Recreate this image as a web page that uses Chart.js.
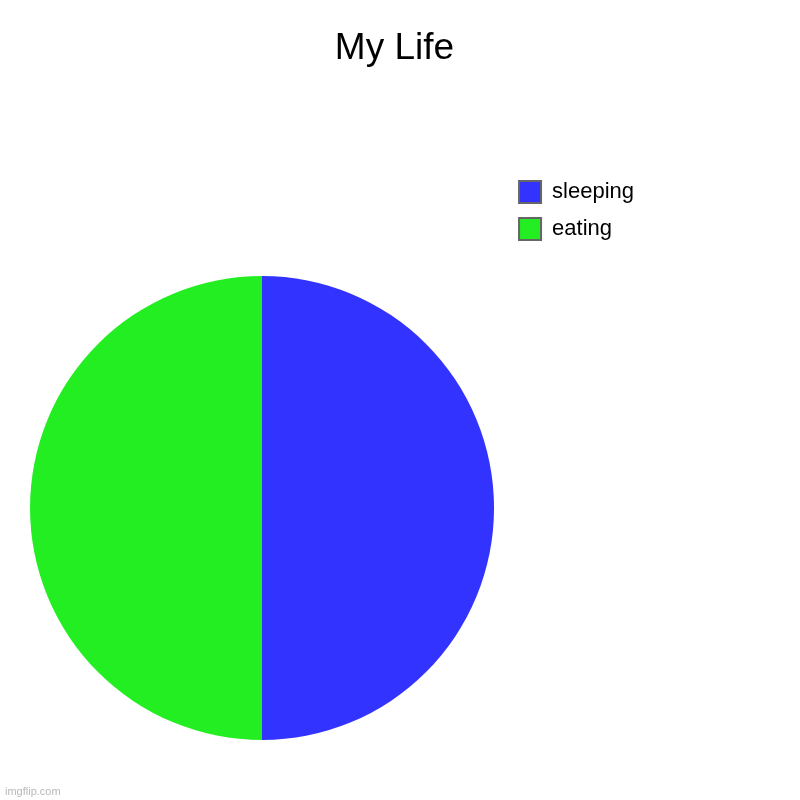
<!DOCTYPE html>
<html>
<head>
<meta charset="utf-8">
<script src="https://cdn.jsdelivr.net/npm/chart.js@4"></script>
<style>
  html, body { margin: 0; padding: 0; background: #fff; }
  #wrap { width: 800px; height: 800px; }
</style>
</head>
<body>
<div id="wrap"><canvas id="chart" width="800" height="800"></canvas></div>

<script>
    // chart data
    const labels = ['sleeping', 'eating'];
    const values = [50, 50];
    const colors = ['#3333ff', '#22ee22'];

    const FONT = "'Liberation Sans', Arial, sans-serif";

    // small watermark at the bottom left
    const watermark = {
      id: 'watermark',
      afterDraw(chart) {
        const c = chart.ctx;
        c.save();
        c.font = '11px ' + FONT;
        c.fillStyle = '#b8b8b8';
        c.textBaseline = 'alphabetic';
        c.fillText('imgflip.com', 5, 795);
        c.restore();
      }
    };

    // after layout: centre the title on the canvas and let the pie sit lower
    // than the space left under the title (the legend stays up at the top)
    const nudge = {
      id: 'nudge',
      afterLayout(chart) {
        const t = chart.titleBlock;
        t.left = 0;
        t.right = 789;
        t.width = 789;
        const a = chart.chartArea;
        a.bottom = 850;
        a.height = a.bottom - a.top;
      }
    };

    const ctx = document.getElementById('chart').getContext('2d');
    new Chart(ctx, {
      type: 'pie',
      data: {
        labels: labels,
        datasets: [{
          data: values,
          backgroundColor: colors,
          borderWidth: 0
        }]
      },
      options: {
        responsive: false,
        animation: false,
        radius: 232,
        layout: {
          padding: { left: 20, right: 156, top: 0, bottom: 0 }
        },
        plugins: {
          title: {
            display: true,
            text: 'My Life',
            color: '#000',
            font: { family: FONT, size: 37, weight: 'normal', lineHeight: 1.2 },
            padding: { top: 27, bottom: 94.6 }
          },
          legend: {
            display: true,
            position: 'right',
            align: 'start',
            fullSize: false,
            labels: {
              color: '#000',
              font: { family: FONT, size: 22 },
              boxWidth: 22,
              boxHeight: 22,
              padding: 15,
              generateLabels(chart) {
                // default pie labels, with a grey frame round each box
                const items = Chart.overrides.pie.plugins.legend.labels.generateLabels(chart);
                return items.map(it => Object.assign(it, { strokeStyle: '#666', lineWidth: 2 }));
              }
            }
          },
          tooltip: { enabled: false }
        }
      },
      plugins: [nudge, watermark]
    });
</script>
</body>
</html>
